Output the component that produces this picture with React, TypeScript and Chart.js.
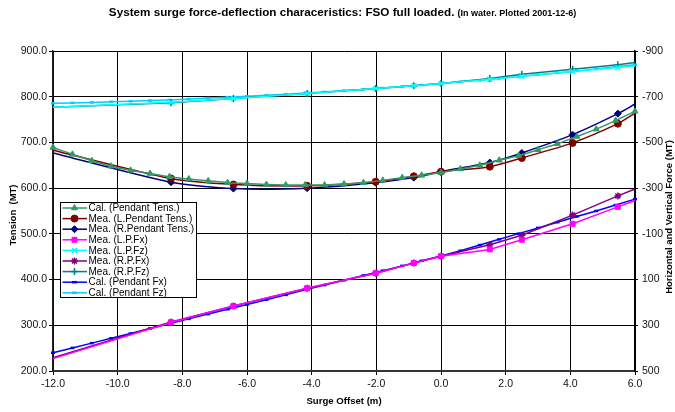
import React, { useEffect, useRef } from 'react';
import { Chart, registerables } from 'chart.js';
import { drawPoint } from 'chart.js/helpers';

Chart.register(...registerables);

// ---------- data ----------
const CAL_X = [-12, -11.4, -10.8, -10.2, -9.6, -9, -8.4, -7.8, -7.2, -6.6, -6, -5.4, -4.8, -4.2, -3.6, -3, -2.4, -1.8, -1.2, -0.6, 0, 0.6, 1.2, 1.8, 2.4, 3, 3.6, 4.2, 4.8, 5.4, 6];
const CAL_TENS = [689, 674, 660, 648, 639, 632, 625, 620, 616, 612, 610, 608, 607, 607, 607, 609, 612, 617, 623, 628, 634, 642, 650, 661, 671, 684, 697, 713, 729, 748, 768];
const CAL_FX = [420, 399, 378, 357, 336, 314, 293, 272, 251, 230, 209, 188, 167, 145, 124, 103, 82, 61, 40, 18, -3, -26, -51, -76, -101, -126, -151, -176, -200, -226, -252];
const CAL_FZ = [-671, -673, -675, -678, -680, -683, -686, -690, -694, -698, -702, -706, -711, -716, -721, -727, -732, -738, -745, -751, -758, -765, -772, -780, -788, -796, -804, -813, -821, -831, -840];

const MEA_X = [-12, -8.35, -6.42, -4.14, -2.02, -0.84, 0, 1.51, 2.5, 4.07, 5.47, 6];
const MEA_L_TENS = [683, 621, 608, 605, 614, 626, 636, 647, 666, 699, 741, 764];
const MEA_R_TENS = [677, 613, 599, 600, 612, 623, 636, 656, 677, 717, 763, 784];
const MEA_L_FX = [446, 288, 216, 138, 72, 28, -2, -32, -74, -144, -218, -246];
const MEA_L_FZ = [-654, -676, -692, -714, -736, -748, -758, -776, -790, -810, -828, -834];
const MEA_R_FX = [442, 286, 216, 138, 72, 28, -2, -52, -94, -182, -266, -296];
const MEA_R_FZ = [-654, -674, -692, -714, -736, -748, -758, -780, -798, -820, -840, -850];

const TITLE_MAIN = 'System surge force-deflection characeristics: FSO full loaded.';
const TITLE_SUB = '(In water. Plotted 2001-12-6)';
const X_TITLE = 'Surge Offset (m)';
const Y_TITLE = 'Tension  (MT)';
const Y2_TITLE = 'Horizontal and Vertical Force (MT)';

const FONT = '"Liberation Sans", Arial, Helvetica, sans-serif';

const pts = (xs: number[], ys: number[]) => xs.map((x, i) => ({ x, y: ys[i] }));

const meaRadius = (r: number) => (c: any) =>
  c.dataIndex === 0 || c.dataIndex === MEA_X.length - 1 ? 0 : r;

const overlay = {
  id: 'overlay',
  afterDraw(chart: any) {
    const ctx = chart.ctx as CanvasRenderingContext2D;
    const area = chart.chartArea;
    ctx.save();
    ctx.fillStyle = '#000';
    ctx.textBaseline = 'middle';
    // title
    ctx.font = `bold 11.7px ${FONT}`;
    const w1 = ctx.measureText(TITLE_MAIN + ' ').width;
    ctx.font = `bold 9px ${FONT}`;
    const w2 = ctx.measureText(TITLE_SUB).width;
    const sx = 342.5 - (w1 + w2) / 2;
    ctx.textAlign = 'left';
    ctx.font = `bold 11.7px ${FONT}`;
    ctx.fillText(TITLE_MAIN, sx, 13);
    ctx.font = `bold 9px ${FONT}`;
    ctx.fillText(TITLE_SUB, sx + w1, 13.8);
    // x title
    ctx.textAlign = 'center';
    ctx.font = `bold 9.6px ${FONT}`;
    ctx.fillText(X_TITLE, (area.left + area.right) / 2, 401);
    // y title
    ctx.save();
    ctx.translate(13.5, (area.top + area.bottom) / 2 + 4);
    ctx.rotate(-Math.PI / 2);
    ctx.font = `bold 9.5px ${FONT}`;
    ctx.fillText(Y_TITLE, 0, 0);
    ctx.restore();
    // y2 title
    ctx.save();
    ctx.translate(669.5, (area.top + area.bottom) / 2 + 6);
    ctx.rotate(-Math.PI / 2);
    ctx.font = `bold 9.5px ${FONT}`;
    ctx.fillText(Y2_TITLE, 0, 0);
    ctx.restore();

    // legend
    const bx = 60.5, by = 202.5, bw = 136, bh = 95;
    ctx.fillStyle = '#fff';
    ctx.fillRect(bx, by, bw, bh);
    ctx.strokeStyle = '#000';
    ctx.lineWidth = 1;
    ctx.strokeRect(bx, by, bw, bh);
    ctx.font = `10px ${FONT}`;
    ctx.textAlign = 'left';
    chart.data.datasets.forEach((ds: any, i: number) => {
      const y = 208 + i * 10.6;
      ctx.strokeStyle = ds.borderColor;
      ctx.lineWidth = ds.borderWidth;
      ctx.beginPath();
      ctx.moveTo(62.5, y);
      ctx.lineTo(87, y);
      ctx.stroke();
      ctx.fillStyle = ds.pointBackgroundColor;
      ctx.strokeStyle = ds.pointBorderColor;
      ctx.lineWidth = ds.pointBorderWidth;
      drawPoint(ctx, { pointStyle: ds.pointStyle, radius: ds.legendRadius, rotation: 0, borderWidth: ds.pointBorderWidth }, 74.5, y);
      ctx.fillStyle = '#000';
      ctx.fillText(ds.label, 88.5, y + 0.5);
    });
    ctx.restore();
  },
};

export default function App() {
  const ref = useRef<HTMLCanvasElement | null>(null);
  useEffect(() => {
    if (!ref.current) return;
    const clip = { left: 6, right: 6, top: 2, bottom: 2 };
    const mk = (label: string, data: any, color: string, style: string, yAxisID: string, opts: any = {}) => ({
      label,
      data,
      yAxisID,
      borderColor: color,
      backgroundColor: color,
      pointBackgroundColor: opts.fill === false ? 'rgba(0,0,0,0)' : color,
      pointBorderColor: color,
      pointStyle: style,
      borderWidth: opts.bw ?? 1.5,
      pointBorderWidth: opts.pbw ?? 1,
      pointRadius: opts.radius ?? 3.5,
      legendRadius: opts.legendRadius ?? 3.5,
      pointHoverRadius: 0,
      tension: opts.tension ?? 0.25,
      fill: false,
      clip,
    });
    const chart = new Chart(ref.current, {
      type: 'line',
      data: {
        datasets: [
          mk('Cal. (Pendant Tens.)', pts(CAL_X, CAL_TENS), '#339966', 'triangle', 'y'),
          mk('Mea. (L.Pendant Tens.)', pts(MEA_X, MEA_L_TENS), '#800000', 'circle', 'y', { radius: meaRadius(3.5) }),
          mk('Mea. (R.Pendant Tens.)', pts(MEA_X, MEA_R_TENS), '#000080', 'rectRot', 'y', { radius: meaRadius(3.5) }),
          mk('Mea. (L.P.Fx)', pts(MEA_X, MEA_L_FX), '#FF00FF', 'rect', 'y2', { radius: meaRadius(3.5), tension: 0 }),
          mk('Mea. (L.P.Fz)', pts(MEA_X, MEA_L_FZ), '#00FFFF', 'crossRot', 'y2', { radius: meaRadius(3.5), fill: false, pbw: 1.5, tension: 0 }),
          mk('Mea. (R.P.Fx)', pts(MEA_X, MEA_R_FX), '#800080', 'star', 'y2', { radius: meaRadius(3.5), fill: false, pbw: 1.5, tension: 0 }),
          mk('Mea. (R.P.Fz)', pts(MEA_X, MEA_R_FZ), '#008080', 'cross', 'y2', { radius: meaRadius(3.5), fill: false, pbw: 1.5, tension: 0 }),
          mk('Cal. (Pendant Fx)', pts(CAL_X, CAL_FX), '#0000FF', 'line', 'y2', { radius: 2, legendRadius: 2.5, pbw: 2.5, tension: 0 }),
          mk('Cal. (Pendant Fz)', pts(CAL_X, CAL_FZ), '#00CCFF', 'line', 'y2', { radius: 2, legendRadius: 2.5, pbw: 2.5, tension: 0 }),
        ] as any,
      },
      options: {
        responsive: false,
        animation: false,
        events: [],
        layout: { padding: { top: 51, left: 0, right: 0, bottom: 0 } },
        plugins: { legend: { display: false }, title: { display: false }, tooltip: { enabled: false } },
        scales: {
          x: {
            type: 'linear',
            position: 'bottom',
            min: -12,
            max: 6,
            ticks: { stepSize: 2, callback: (v: any) => Number(v).toFixed(1), color: '#111', font: { family: FONT, size: 10.5 }, padding: 3, maxRotation: 0 },
            grid: { color: '#000', lineWidth: 1, tickLength: 4 },
            border: { color: '#333', width: 2 },
            afterFit: (s: any) => { s.height = 41; },
          },
          y: {
            type: 'linear',
            position: 'left',
            min: 200,
            max: 900,
            ticks: { stepSize: 100, callback: (v: any) => Number(v).toFixed(1), color: '#111', font: { family: FONT, size: 10.5 }, padding: 2 },
            grid: { color: '#000', lineWidth: 1, tickLength: 4 },
            border: { color: '#222', width: 1.5 },
            afterFit: (s: any) => { s.width = 53; },
          },
          y2: {
            type: 'linear',
            position: 'right',
            min: -900,
            max: 500,
            reverse: true,
            ticks: { stepSize: 200, callback: (v: any) => String(Math.round(Number(v))), color: '#111', font: { family: FONT, size: 10.5 }, padding: 4 },
            grid: { drawOnChartArea: false, color: '#000', tickLength: 3 },
            border: { color: '#000', width: 1.5 },
            afterFit: (s: any) => { s.width = 40; },
          },
        },
      } as any,
      plugins: [overlay],
    });
    return () => chart.destroy();
  }, []);
  return (
    <div style={{ position: 'fixed', left: 0, top: 0, width: 675, height: 412, background: '#fff' }}>
      <canvas ref={ref} width={675} height={412} style={{ width: 675, height: 412, display: 'block' }} />
    </div>
  );
}
